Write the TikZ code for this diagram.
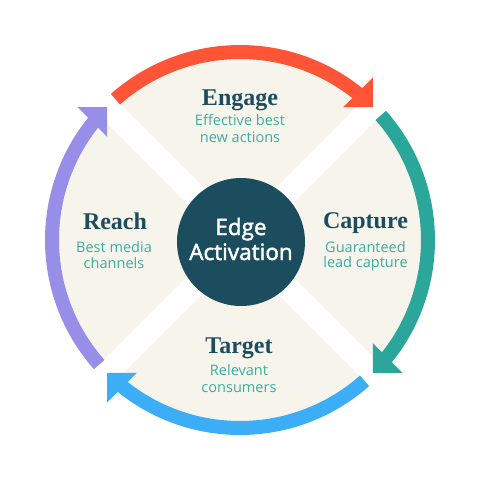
\documentclass[tikz,border=0pt]{standalone}
\usepackage{fontspec}
\setmainfont{Liberation Serif}
\newfontfamily\subfont{Open Sans}
\newfontfamily\corefont[FakeBold=2]{Open Sans}
\usetikzlibrary{calc}
\definecolor{cred}{HTML}{FF5436}
\definecolor{cteal}{HTML}{2BA69B}
\definecolor{cblue}{HTML}{3BAEF7}
\definecolor{cpurple}{HTML}{978EE8}
\definecolor{cbeige}{HTML}{F7F4EC}
\definecolor{cdark}{HTML}{1C4D5E}
\definecolor{csub}{HTML}{3AAE9F}
\newcommand\cyclearc[3]{%
  \draw[#1, line width=10.5pt] (#2:188) arc[start angle=#2, end angle={#3+6.0}, radius=188];
  \fill[#1] (#3:188) -- ($(#3:188)+({#3+90}:21)+(#3:21)$) -- ($(#3:188)+({#3+90}:21)+({#3+180}:21)$) -- cycle;}
\tikzset{
  head/.style={text=cdark, anchor=base, inner sep=0pt, font=\fontsize{18}{18}\selectfont\bfseries},
  sub/.style={text=csub, anchor=base, inner sep=0pt, font=\subfont\fontsize{10.9}{13}\selectfont},
  core/.style={text=white, anchor=base, inner sep=0pt, font=\corefont\fontsize{16.9}{18}\selectfont},
}
\begin{document}
\begin{tikzpicture}[x=0.75pt,y=0.75pt]
\useasboundingbox (-240,-240) rectangle (240,240);
\fill[cbeige] (0,0) circle[radius=182];
\draw[white, line width=17.25pt] (-135,-135) -- (135,135);
\draw[white, line width=17.25pt] (-135,135) -- (135,-135);
\cyclearc{cred}{131.5}{45}
\cyclearc{cteal}{41.5}{-45}
\cyclearc{cblue}{-48.5}{-135}
\cyclearc{cpurple}{221.5}{135}
\fill[cdark] (1,-2) circle[radius=64];
\node[core] (edge) at (1,5) {Edge};
\node[core] (activation) at (1,-20) {Activation};
\node[head] (engage) at (0,135) {Engage};
\node[sub] (engage1) at (0,115) {Effective best};
\node[sub] (engage2) at (0,98) {new actions};
\node[head] (reach) at (-125,11) {Reach};
\node[sub] (reach1) at (-126,-12) {Best media};
\node[sub] (reach2) at (-126,-28) {channels};
\node[head] (capture) at (125.5,12) {Capture};
\node[sub] (capture1) at (125.5,-12) {Guaranteed};
\node[sub] (capture2) at (125.5,-27) {lead capture};
\node[head] (target) at (-1,-113) {Target};
\node[sub] (target1) at (-1,-135) {Relevant};
\node[sub] (target2) at (-1,-152) {consumers};
\end{tikzpicture}
\end{document}
